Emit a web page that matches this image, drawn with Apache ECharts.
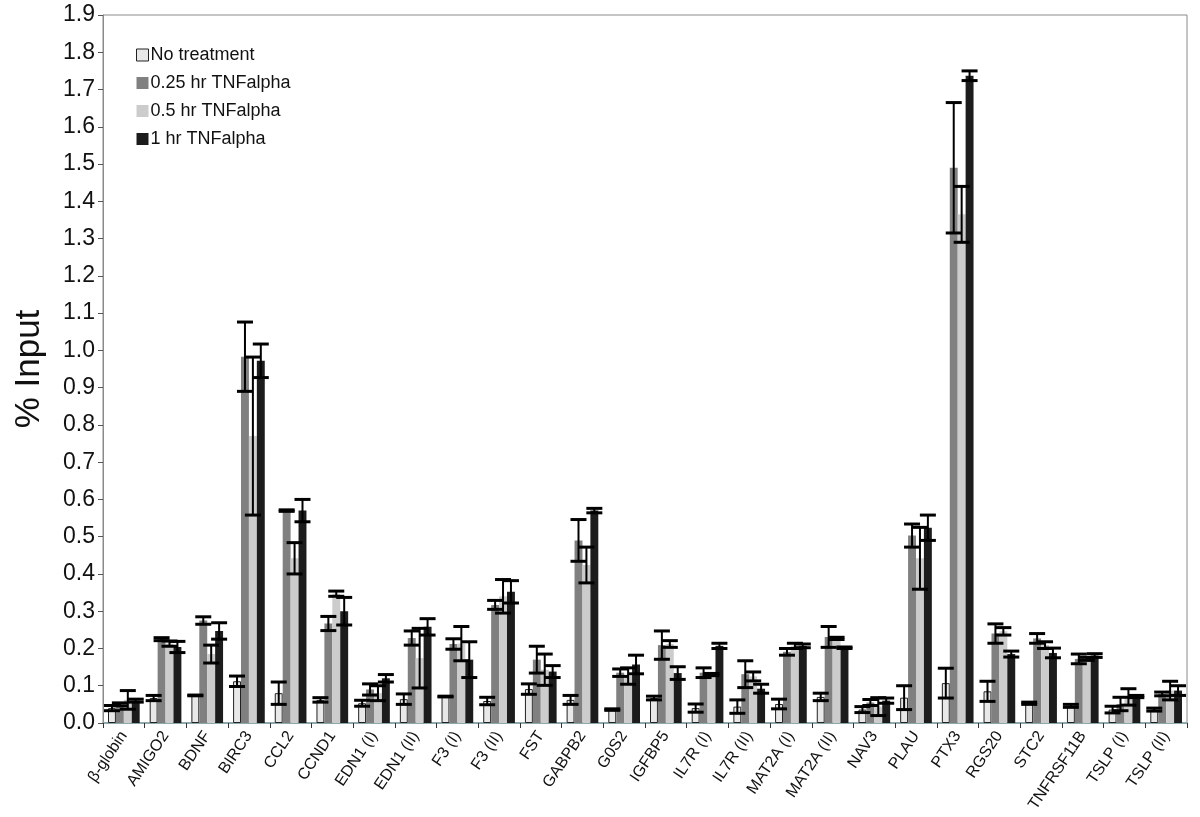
<!DOCTYPE html>
<html>
<head>
<meta charset="utf-8">
<script src="https://cdn.jsdelivr.net/npm/echarts@6/dist/echarts.min.js"></script>
<style>
html,body{margin:0;padding:0;background:#fff;}
#chart{width:1200px;height:817px;}
</style>
</head>
<body>
<div id="chart"></div>
<script>
const categories = ['β-globin','AMIGO2','BDNF','BIRC3','CCL2','CCND1','EDN1 (I)','EDN1 (II)','F3 (I)','F3 (II)','FST','GABPB2','G0S2','IGFBP5','IL7R (I)','IL7R (II)','MAT2A (I)','MAT2A (II)','NAV3','PLAU','PTX3','RGS20','STC2','TNFRSF11B','TSLP (I)','TSLP (II)'];
const seriesNames = ['No treatment','0.25 hr TNFalpha','0.5 hr TNFalpha','1 hr TNFalpha'];
const yTicks = ['0.0','0.1','0.2','0.3','0.4','0.5','0.6','0.7','0.8','0.9','1.0','1.1','1.2','1.3','1.4','1.5','1.6','1.7','1.8','1.9'];

const noTreat = [0.040,0.067,0.074,0.112,0.080,0.062,0.053,0.064,0.071,0.059,0.091,0.062,0.036,0.067,0.040,0.044,0.051,0.070,0.036,0.068,0.107,0.085,0.053,0.046,0.036,0.036];
const errNo   = [0.007,0.007,0.001,0.014,0.030,0.006,0.008,0.014,0.001,0.010,0.014,0.012,0.002,0.005,0.011,0.018,0.013,0.010,0.008,0.032,0.040,0.027,0.003,0.004,0.009,0.004];

const hr025  = [0.050,0.225,0.275,0.983,0.570,0.267,0.090,0.228,0.212,0.317,0.170,0.490,0.135,0.209,0.135,0.131,0.191,0.231,0.055,0.503,1.490,0.240,0.227,0.172,0.051,0.078];
const err025 = [0.004,0.004,0.010,0.093,0.002,0.019,0.015,0.019,0.014,0.012,0.036,0.056,0.010,0.038,0.013,0.036,0.009,0.028,0.008,0.031,0.175,0.026,0.013,0.013,0.018,0.005];

const hr05   = [0.062,0.213,0.185,0.770,0.442,0.347,0.080,0.174,0.213,0.340,0.143,0.424,0.126,0.212,0.130,0.125,0.207,0.227,0.044,0.442,1.365,0.246,0.209,0.172,0.070,0.087];
const err05  = [0.025,0.007,0.024,0.212,0.042,0.007,0.020,0.080,0.046,0.045,0.042,0.048,0.022,0.009,0.003,0.012,0.007,0.003,0.024,0.083,0.075,0.010,0.009,0.004,0.022,0.025];

const hr1    = [0.060,0.204,0.247,0.972,0.570,0.300,0.120,0.258,0.170,0.352,0.138,0.570,0.157,0.134,0.207,0.092,0.207,0.202,0.060,0.524,1.737,0.185,0.188,0.181,0.071,0.087];
const err1   = [0.004,0.015,0.022,0.045,0.030,0.037,0.010,0.022,0.048,0.030,0.016,0.006,0.025,0.017,0.007,0.012,0.005,0.002,0.007,0.034,0.013,0.008,0.013,0.005,0.003,0.013];

const values = [noTreat, hr025, hr05, hr1];
const errors = [errNo, err025, err05, err1];
const colors = ['#e8e8e8','#808080','#cccccc','#1c1c1c'];

const CAT_GAP = 0.24;
const errData = [];
values.forEach((arr, s) => {
  arr.forEach((v, i) => {
    errData.push([i, s, v - errors[s][i], v + errors[s][i]]);
  });
});

const chart = echarts.init(document.getElementById('chart'), null, {renderer:'canvas'});

const barSeries = seriesNames.map((name, s) => ({
  name: name,
  type: 'bar',
  data: values[s],
  barGap: '0%',
  barCategoryGap: (CAT_GAP*100) + '%',
  itemStyle: s === 0 ? {color: colors[s], borderColor: '#222', borderWidth: 1} : {color: colors[s]},
  emphasis: {disabled: true},
  z: 2
}));

const errSeries = {
  type: 'custom',
  data: errData,
  z: 10,
  silent: true,
  renderItem: function (params, api) {
    const cat = api.value(0), s = api.value(1);
    const lo = api.value(2), hi = api.value(3);
    const band = api.size([1, 0])[0];
    const bw = band * (1 - CAT_GAP) / 4;
    const center = api.coord([cat, 0])[0];
    const x = center + (s - 1.5) * bw;
    const yLo = api.coord([cat, lo])[1];
    const yHi = api.coord([cat, hi])[1];
    const cap = 8;
    const st = {stroke: '#000', lineWidth: 3};
    return {
      type: 'group',
      children: [
        {type: 'line', shape: {x1: x, y1: yLo, x2: x, y2: yHi}, style: {stroke: '#000', lineWidth: 2}},
        {type: 'line', shape: {x1: x - cap, y1: yHi, x2: x + cap, y2: yHi}, style: st},
        {type: 'line', shape: {x1: x - cap, y1: yLo, x2: x + cap, y2: yLo}, style: st}
      ]
    };
  }
};

chart.setOption({
  animation: false,
  backgroundColor: '#fff',
  textStyle: {fontFamily: 'Liberation Sans, Arial, sans-serif'},
  grid: {left: 103, right: 13, top: 15, bottom: 94, show: true, borderColor: '#8a8a8a', borderWidth: 1},
  legend: {
    orient: 'vertical',
    left: 131,
    top: 41,
    itemWidth: 12,
    itemHeight: 12,
    itemGap: 10,
    icon: 'rect',
    textStyle: {fontSize: 18, color: '#111', padding: [0,0,0,-3]},
    data: seriesNames.map((n, s) => ({
      name: n,
      itemStyle: s === 0 ? {color: colors[0], borderColor: '#222', borderWidth: 1} : {color: colors[s]}
    }))
  },
  xAxis: {
    type: 'category',
    data: categories,
    axisLine: {lineStyle: {color: '#7c9ea3', width: 1.5}},
    axisTick: {show: true, length: 5, lineStyle: {color: '#333'}},
    axisLabel: {interval: 0, rotate: 56, fontSize: 16, color: '#111', margin: 10}
  },
  yAxis: {
    type: 'value',
    min: 0, max: 1.9, interval: 0.1,
    name: '% Input',
    nameLocation: 'middle',
    nameGap: 56,
    nameTextStyle: {fontSize: 35, color: '#111'},
    axisLine: {show: true, lineStyle: {color: '#8a8a8a'}},
    axisTick: {show: true, length: 5, lineStyle: {color: '#555'}},
    splitLine: {show: false},
    axisLabel: {fontSize: 23, color: '#111', margin: 8, formatter: v => yTicks[Math.round(v * 10)]}
  },
  series: barSeries.concat([errSeries])
});
</script>
</body>
</html>
